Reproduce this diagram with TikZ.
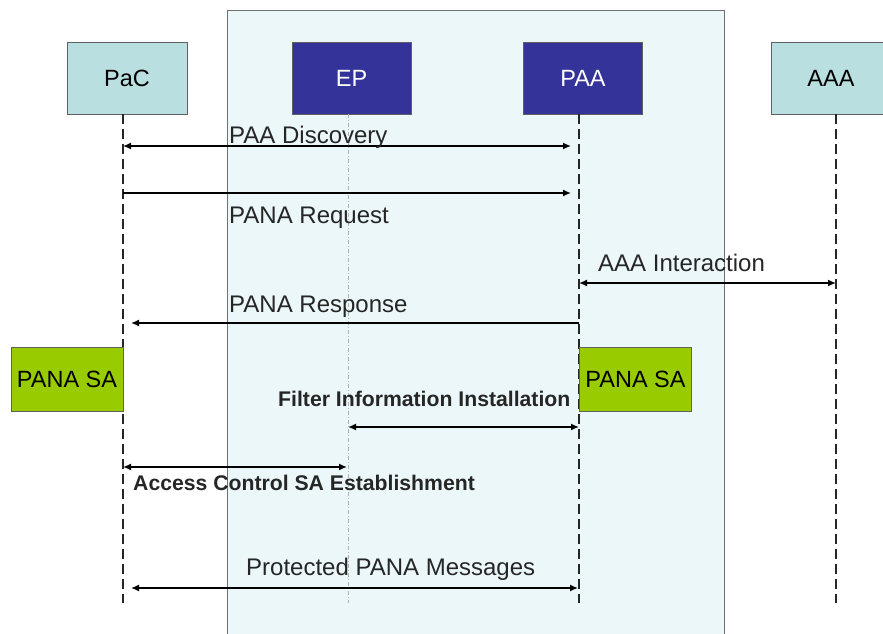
\documentclass[tikz,border=0pt]{standalone}
\usepackage{fontspec}
\setmainfont{Liberation Sans}
\usetikzlibrary{arrows.meta}
\definecolor{zone}{HTML}{EBF7F9}
\definecolor{zoneedge}{HTML}{707070}
\definecolor{ent}{HTML}{BADFE0}
\definecolor{core}{HTML}{333399}
\definecolor{sagreen}{HTML}{99CC00}
\definecolor{edgegray}{HTML}{606060}
\tikzset{
  x=1pt, y=-1pt,
  entbox/.style={draw=edgegray, line width=0.8pt, fill=ent, minimum width=120pt, minimum height=72pt, inner sep=0pt, font=\fontsize{23.5}{28}\selectfont},
  corebox/.style={draw=edgegray, line width=0.8pt, fill=core, text=white, minimum width=119pt, minimum height=72pt, inner sep=0pt, font=\fontsize{23.5}{28}\selectfont},
  sabox/.style={draw=edgegray, line width=0.6pt, fill=sagreen, minimum width=112pt, minimum height=64pt, inner sep=0pt, font=\fontsize{23.5}{28}\selectfont},
  lifeline/.style={draw=black!85, line width=1.2pt, dash pattern=on 10pt off 5pt},
  eplife/.style={draw=gray!60, line width=0.8pt, dash pattern=on 4pt off 2pt on 1pt off 2pt},
  msg/.style={draw=black, line width=1.5pt},
  tipR/.style={-{Latex[length=8pt,width=7pt]}},
  tipL/.style={{Latex[length=8pt,width=7pt]}-},
  tipLR/.style={{Latex[length=8pt,width=7pt]}-{Latex[length=8pt,width=7pt]}},
  lbl/.style={anchor=base west, inner sep=0pt, font=\fontsize{24}{28}\selectfont, text=black!85},
  blbl/.style={anchor=base west, inner sep=0pt, font=\fontsize{21.2}{25}\selectfont\bfseries, text=black!85},
}
\begin{document}
\begin{tikzpicture}
\useasboundingbox (0,0) rectangle (883,633);
% shaded zone
\path[fill=zone, draw=zoneedge, line width=0.8pt] (227,645) -- (227,10) -- (724,10) -- (724,645);
% entity boxes
\node[entbox] (pac) at (127,78) {PaC};
\node[corebox] (ep) at (351.5,78) {EP};
\node[corebox] (paa) at (583,78) {PAA};
\node[entbox] (aaa) at (831,78) {AAA};
% lifeline ends
\coordinate (pacend) at (123,603);
\coordinate (paaend) at (579,603);
\coordinate (aaaend) at (836,603);
\coordinate (epend) at (348,603);
\draw[lifeline] (pac.south -| pacend) -- (pacend);
\draw[lifeline] (paa.south -| paaend) -- (paaend);
\draw[lifeline] (aaa.south -| aaaend) -- (aaaend);
\draw[eplife] (ep.south -| epend) -- (epend);
% PANA SA boxes
\node[sabox] (saL) at (67,379) {PANA SA};
\node[sabox] (saR) at (635.5,379) {PANA SA};
% message end points
\coordinate (d1) at (123,146); \coordinate (d2) at (571,146);
\coordinate (r1) at (123,193); \coordinate (r2) at (571,193);
\coordinate (a1) at (579,283); \coordinate (a2) at (836,283);
\coordinate (p1) at (579,323); \coordinate (p2) at (131,323);
\coordinate (f1) at (348,427); \coordinate (f2) at (579,427);
\coordinate (c1) at (123,467); \coordinate (c2) at (347,467);
\coordinate (m1) at (131,588); \coordinate (m2) at (578,588);
% messages
\draw[msg, tipLR] (d1) -- (d2);
\node[lbl] (ldisc) at (229,143) {PAA Discovery};
\draw[msg, tipR] (r1) -- (r2);
\node[lbl] (lreq) at (229,223) {PANA Request};
\draw[msg, tipLR] (a1) -- (a2);
\node[lbl] (laaa) at (598,271) {AAA Interaction};
\draw[msg, tipR] (p1) -- (p2);
\node[lbl] (lresp) at (229,312) {PANA Response};
\draw[msg, tipLR] (f1) -- (f2);
\node[blbl] (lfilt) at (278,406) {Filter Information Installation};
\draw[msg, tipLR] (c1) -- (c2);
\node[blbl] (lacc) at (133,490) {Access Control SA Establishment};
\draw[msg, tipLR] (m1) -- (m2);
\node[lbl] (lprot) at (246,575) {Protected PANA Messages};
\end{tikzpicture}
\end{document}
